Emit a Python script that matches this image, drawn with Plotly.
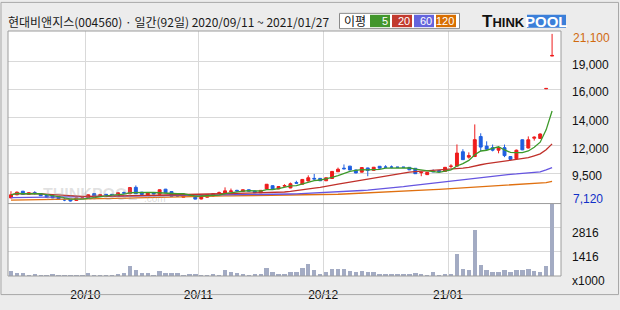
import pandas as pd
import plotly.graph_objects as go

# ---------------- data ----------------
title_text = "현대비앤지스(004560) · 일간(92일) 2020/09/11 ~ 2021/01/27"
holidays = ["2020-09-30", "2020-10-01", "2020-10-02", "2020-10-09", "2020-12-25", "2020-12-31"]
dates = [d for d in pd.bdate_range("2020-09-11", "2021-01-27") if d.strftime("%Y-%m-%d") not in holidays]

opens = [7420, 7680, 7980, 7720, 7860, 7780, 7680, 7620, 7550, 7300,
         7320, 7210, 7400, 7370, 7780, 7600, 7720, 7720, 7600, 7860,
         7770, 8300, 7900, 7650, 7850, 7720, 8150, 7950, 7600, 7480,
         7700, 7560, 7330, 7480, 7580, 7800, 7800, 7950, 8050, 7950,
         8100, 8000, 7850, 8170, 8440, 8170, 8400, 8250, 8700, 8560,
         8830, 9050, 9050, 8850, 9040, 9600, 9900, 10070, 9750, 9570,
         9920, 9720, 10060, 10000, 10000, 9990, 9990, 9970, 9890, 9520,
         9360, 9650, 9700, 9630, 10050, 10070, 11270, 10820, 10870, 12540,
         11740, 11610, 11400, 11610, 10870, 10690, 12270, 11580, 12400, 12380,
         16520, 19250]
highs = [7980, 7950, 8000, 7900, 7980, 7800, 7700, 7650, 7560, 7400,
         7330, 7430, 7450, 7700, 7800, 7720, 7740, 7740, 7870, 7950,
         8300, 8460, 7920, 7880, 7870, 8120, 8170, 7960, 7650, 7780,
         7720, 7580, 7620, 7720, 7800, 7950, 8300, 8200, 8100, 8120,
         8120, 8020, 8070, 8580, 8460, 8390, 8560, 8700, 8850, 9000,
         9300, 9420, 9070, 9120, 9650, 9950, 10210, 10090, 9770, 9970,
         9940, 10000, 10080, 10150, 10120, 10000, 10000, 9990, 9900, 9600,
         9570, 9800, 9720, 10000, 10230, 11880, 11480, 11220, 13550, 12810,
         12140, 11870, 11700, 11870, 10900, 11450, 12300, 12550, 12550, 12800,
         16550, 21100]
lows = [7400, 7650, 7700, 7700, 7700, 7580, 7450, 7400, 7300, 7150,
        7120, 7180, 7350, 7350, 7580, 7580, 7620, 7620, 7580, 7750,
        7750, 7750, 7680, 7640, 7730, 7700, 7830, 7530, 7520, 7470,
        7600, 7300, 7300, 7460, 7560, 7750, 7780, 7920, 7950, 7930,
        7960, 7830, 7830, 8150, 8150, 8150, 8350, 8230, 8600, 8540,
        8800, 8950, 8830, 8830, 9020, 9580, 9800, 9730, 9480, 9550,
        9230, 9700, 9880, 9900, 9900, 9950, 9950, 9740, 9420, 9230,
        9340, 9580, 9580, 9610, 9900, 10050, 10590, 10690, 10850, 11300,
        11400, 11300, 11140, 10820, 10560, 10600, 11400, 11550, 12200, 12350,
        16520, 19250]
closes = [7680, 7900, 7720, 7850, 7800, 7600, 7480, 7420, 7320, 7250,
          7160, 7420, 7420, 7680, 7600, 7680, 7650, 7650, 7850, 7820,
          8280, 7770, 7700, 7850, 7750, 8100, 7850, 7550, 7580, 7750,
          7650, 7320, 7600, 7690, 7770, 7850, 8010, 8000, 8000, 8100,
          7980, 7850, 8050, 8560, 8170, 8370, 8450, 8600, 8650, 8960,
          9100, 9000, 8850, 9100, 9630, 9810, 9850, 9750, 9500, 9950,
          9710, 9980, 9900, 9980, 9980, 9970, 9970, 9760, 9440, 9560,
          9550, 9600, 9600, 9970, 10070, 11160, 10610, 10950, 12280, 11660,
          11480, 11400, 11610, 10950, 10630, 11400, 11430, 12270, 12480, 12750,
          16550, 19300]
volumes = [300, 200, 200, 110, 170, 110, 110, 170, 110, 110,
           110, 110, 110, 200, 110, 110, 110, 110, 170, 200,
           590, 370, 200, 200, 110, 300, 200, 200, 200, 110,
           170, 170, 110, 110, 170, 110, 350, 240, 220, 170,
           110, 170, 170, 520, 250, 170, 170, 240, 240, 520,
           740, 370, 170, 240, 460, 420, 460, 310, 240, 290,
           240, 240, 170, 170, 170, 170, 170, 170, 200, 170,
           90, 240, 90, 170, 170, 1290, 410, 350, 2720, 680,
           350, 240, 240, 350, 240, 350, 350, 410, 290, 240,
           590, 4216]
ma60 = [7450, 7455, 7460, 7465, 7470, 7475, 7480, 7485, 7490, 7495,
        7500, 7505, 7510, 7515, 7520, 7525, 7530, 7540, 7550, 7560,
        7570, 7575, 7580, 7585, 7590, 7595, 7600, 7605, 7610, 7615,
        7620, 7625, 7630, 7635, 7640, 7645, 7650, 7655, 7660, 7665,
        7670, 7680, 7690, 7700, 7710, 7720, 7730, 7745, 7760, 7780,
        7800, 7820, 7845, 7870, 7895, 7925, 7955, 7985, 8010, 8040,
        8070, 8110, 8150, 8200, 8250, 8300, 8360, 8420, 8480, 8540,
        8600, 8660, 8710, 8760, 8810, 8870, 8920, 8990, 9060, 9130,
        9190, 9260, 9310, 9350, 9390, 9420, 9450, 9490, 9530, 9590,
        9750, 9950]
ma120 = [7240, 7245, 7250, 7255, 7260, 7265, 7270, 7280, 7290, 7295,
         7300, 7310, 7320, 7330, 7340, 7350, 7360, 7370, 7380, 7390,
         7400, 7415, 7430, 7445, 7460, 7475, 7490, 7505, 7520, 7535,
         7550, 7560, 7565, 7570, 7575, 7580, 7585, 7590, 7595, 7600,
         7600, 7605, 7610, 7615, 7620, 7625, 7635, 7645, 7655, 7665,
         7675, 7685, 7695, 7705, 7715, 7725, 7745, 7765, 7785, 7805,
         7825, 7845, 7865, 7885, 7905, 7925, 7955, 7985, 8015, 8045,
         8075, 8105, 8135, 8165, 8195, 8225, 8255, 8285, 8320, 8355,
         8390, 8425, 8455, 8480, 8500, 8520, 8540, 8560, 8590, 8620,
         8700, 8800]

price_tick_labels = ["19,000", "16,000", "14,000", "12,000", "9,500"]
price_tick_vals = [18800, 16490, 14100, 11800, 9490]
vol_tick_labels = ["x1000", "1416", "2816"]
vol_tick_vals = [0, 1416, 2816]
ma_names = ["5", "20", "60", "120"]

# ---------------- style ----------------
W, H = 620, 310
L, R, T, B = 8, 59, 31, 22
PW, PH = W - L - R, H - T - B
def px(x): return (x - L) / PW
def py(y): return (H - B - y) / PH

UP, DOWN = "#ee1c1c", "#1f5fe0"
MA_COLORS = ["#3d9a2a", "#c0302a", "#6655e0", "#e07010"]
LEG_COLORS = ["#42962c", "#c23a2e", "#6464dc", "#d86e00"]
GRID = "#d9d9d9"
BORDER = "#9c9c9c"
split = py(212)

idx = list(range(len(dates)))
s = pd.Series(closes, dtype=float)
ma5 = s.rolling(5, min_periods=1).mean().tolist()
ma20 = s.rolling(20, min_periods=1).mean().tolist()
mas = [ma5, ma20, ma60, ma120]

# month start ticks (gridline at left edge of first trading day of month)
month_ticks, month_text = [], []
for i, d in enumerate(dates):
    if i > 0 and d.month != dates[i - 1].month:
        month_ticks.append(i - 0.5)
        month_text.append(d.strftime("%y/%m"))

fig = go.Figure()
fig.add_trace(go.Bar(x=idx, y=volumes, marker=dict(color="#a3abc3", line=dict(width=0)),
                     width=0.74, yaxis="y2", showlegend=False, hoverinfo="skip"))
fig.add_trace(go.Candlestick(
    x=idx, open=opens, high=highs, low=lows, close=closes,
    increasing=dict(line=dict(color=UP, width=1), fillcolor=UP),
    decreasing=dict(line=dict(color=DOWN, width=1), fillcolor=DOWN),
    whiskerwidth=0, yaxis="y", showlegend=False, hoverinfo="skip"))
for m, c in zip(mas[::-1], MA_COLORS[::-1]):
    fig.add_trace(go.Scatter(x=idx, y=m, mode="lines", line=dict(color=c, width=1.3),
                             yaxis="y", showlegend=False, hoverinfo="skip"))

num_font = dict(family="Liberation Sans, Arial, sans-serif", size=12, color="#111111")

fig.update_layout(
    width=W, height=H,
    margin=dict(l=L, r=R, t=T, b=B),
    paper_bgcolor="#ececec", plot_bgcolor="#ffffff",
    showlegend=False, bargap=0,
    xaxis=dict(domain=[0, 1], range=[-0.5, len(dates) - 0.5], anchor="y2",
               tickvals=month_ticks, ticktext=month_text, showgrid=True, gridcolor=GRID,
               gridwidth=1, zeroline=False, showline=False, ticks="outside", ticklen=8,
               tickcolor="rgba(0,0,0,0)",
               tickfont=num_font, rangeslider=dict(visible=False), fixedrange=True),
    yaxis=dict(domain=[split, 1], range=[6950, 21340], side="right", anchor="x",
               tickvals=price_tick_vals, ticktext=price_tick_labels, showgrid=True,
               gridcolor=GRID, zeroline=False, ticks="", ticklabelstandoff=10,
               ticklabelshift=3, tickfont=num_font, fixedrange=True),
    yaxis2=dict(domain=[0, split], range=[0, 4216], side="right", anchor="x",
                tickvals=vol_tick_vals, ticktext=vol_tick_labels, showgrid=True,
                gridcolor=GRID, zeroline=False, ticks="", ticklabelstandoff=10,
                ticklabelshift=5, tickfont=num_font, fixedrange=True),
)

shapes = []
# plot border and panel separator
shapes.append(dict(type="rect", xref="paper", yref="paper", x0=0, x1=1, y0=0, y1=1,
                   line=dict(color=BORDER, width=1)))
shapes.append(dict(type="line", xref="paper", yref="paper", x0=0, x1=1, y0=split, y1=split,
                   line=dict(color=BORDER, width=1)))
# outer frame
shapes.append(dict(type="rect", xref="paper", yref="paper", x0=px(1), x1=px(618.5),
                   y0=py(307.5), y1=py(1), line=dict(color="#a8a8a8", width=1)))
# legend box
shapes.append(dict(type="rect", xref="paper", yref="paper", x0=px(339.5), x1=px(459.5),
                   y0=py(28.5), y1=py(12.5), fillcolor="#ffffff", line=dict(color="#8a8a8a", width=1)))
box_x = [370, 392, 414, 436]
for bx, c in zip(box_x, LEG_COLORS):
    shapes.append(dict(type="rect", xref="paper", yref="paper", x0=px(bx), x1=px(bx + 20),
                       y0=py(27), y1=py(14), fillcolor=c, line=dict(width=0)))
# logo POOL box
shapes.append(dict(type="rect", xref="paper", yref="paper", x0=px(527), x1=px(566),
                   y0=py(27.5), y1=py(14), fillcolor="#3b7fd9", line=dict(width=0)))
fig.update_layout(shapes=shapes)

ann = []
ann.append(dict(text=title_text, xref="paper", yref="paper", x=px(6), y=py(21.5),
                xanchor="left", yanchor="middle", showarrow=False,
                font=dict(family="Noto Sans CJK KR", size=12, color="#1a1a1a")))
ann.append(dict(text="이평", xref="paper", yref="paper", x=px(355), y=py(20.5),
                xanchor="center", yanchor="middle", showarrow=False,
                font=dict(family="Noto Sans CJK KR", size=12, color="#111111")))
for bx, name in zip(box_x, ma_names):
    ann.append(dict(text=name, xref="paper", yref="paper", x=px(bx + 20), y=py(20.5),
                    xanchor="right", yanchor="middle", showarrow=False,
                    font=dict(family="Liberation Sans", size=11, color="#ffffff")))
ann.append(dict(text="<b>T<span style='font-size:13px'>HINK</span></b>", xref="paper", yref="paper",
                x=px(527), y=py(21), xanchor="right", yanchor="middle", showarrow=False,
                font=dict(family="Liberation Sans", size=17, color="#111111")))
ann.append(dict(text="<b>POOL</b>", xref="paper", yref="paper",
                x=px(546.5), y=py(21), xanchor="center", yanchor="middle", showarrow=False,
                font=dict(family="Liberation Sans", size=15, color="#ffffff")))
# max / min labels
pmax, pmin = max(highs), min(lows)
ann.append(dict(text=f"{pmax:,}", xref="paper", yref="y", x=1, y=pmax, xshift=10, yshift=-4,
                xanchor="left", yanchor="middle", showarrow=False,
                font=dict(family="Liberation Sans", size=12, color="#d06a10")))
ann.append(dict(text=f"{pmin:,}", xref="paper", yref="y", x=1, y=pmin, xshift=10, yshift=3,
                xanchor="left", yanchor="middle", showarrow=False,
                font=dict(family="Liberation Sans", size=12, color="#1030c8")))
# faint watermark
ann.append(dict(text="<b>THINKPOOL</b>", xref="paper", yref="paper", x=px(90), y=py(202),
                xanchor="center", yanchor="middle", showarrow=False,
                font=dict(family="Liberation Sans", size=16, color="rgba(150,150,150,0.28)")))
ann.append(dict(text=".com", xref="paper", yref="paper", x=px(142), y=py(207),
                xanchor="left", yanchor="middle", showarrow=False,
                font=dict(family="Liberation Sans", size=10, color="rgba(150,150,150,0.35)")))
fig.update_layout(annotations=ann)

fig.write_html("out.html")
